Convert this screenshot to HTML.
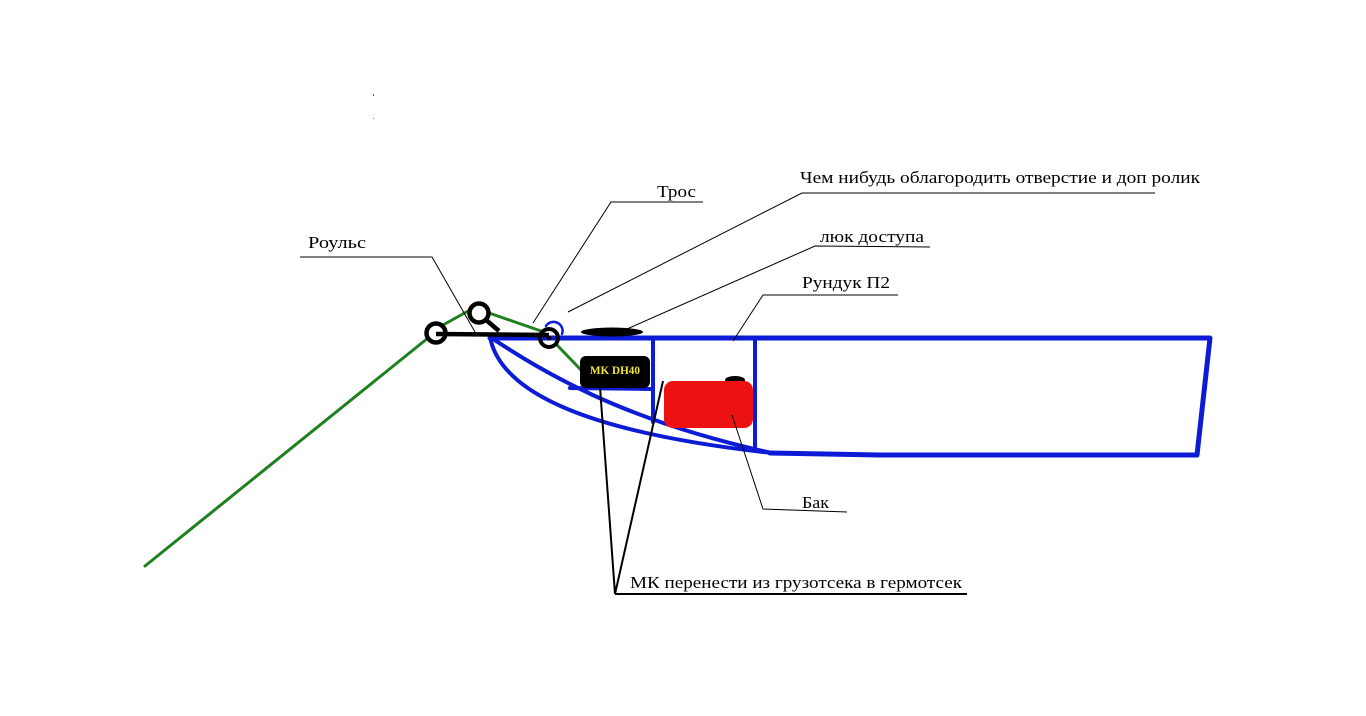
<!DOCTYPE html>
<html><head><meta charset="utf-8"><style>
html,body{margin:0;padding:0;background:#fff;}
svg{display:block;}
text{font-family:"Liberation Serif","Noto Serif CJK SC",serif;font-size:17px;fill:#000;}
</style></head><body>
<svg width="1366" height="716" viewBox="0 0 1366 716" xmlns="http://www.w3.org/2000/svg">
<rect width="1366" height="716" fill="#fff"/>
<!-- faint marks -->
<rect x="373" y="94" width="1" height="2" fill="#555"/>
<rect x="373" y="118" width="1" height="1" fill="#777"/>

<!-- green cable -->
<g stroke="#1e801e" stroke-width="3" fill="none" stroke-linecap="round">
<line x1="145" y1="566" x2="428" y2="338"/>
<line x1="443" y1="325" x2="470" y2="310"/>
<line x1="489" y1="313" x2="541" y2="331"/>
<line x1="556" y1="344" x2="581" y2="370"/>
</g>

<!-- blue hull -->
<g stroke="#0b1bd6" fill="none" stroke-linejoin="round" stroke-linecap="round">
<polyline stroke-width="5" points="490,338 1210,338 1197,455 880,455 770,453"/>
<path stroke-width="4" d="M490 337 C 540 370, 620 420, 772 453"/>
<path stroke-width="4" d="M490 337 C 500 390, 580 432, 772 453"/>
<line stroke-width="4" x1="653" y1="338" x2="653" y2="422"/>
<line stroke-width="4" x1="755" y1="338" x2="755" y2="449"/>
<line stroke-width="4" x1="570" y1="388" x2="653" y2="389"/>
<path stroke-width="2.5" d="M546 326 A 9 9 0 0 1 562 334"/>
</g>

<!-- hatch -->
<ellipse cx="612" cy="332" rx="31" ry="4.5" fill="#000"/>

<!-- MK box -->
<rect x="580" y="356" width="70" height="32" rx="6" fill="#000"/>
<text x="590" y="374" textLength="50" lengthAdjust="spacingAndGlyphs" style="font-size:12px;font-weight:bold;fill:#f0e830">MK DH40</text>

<!-- tank -->
<ellipse cx="735" cy="380" rx="10" ry="4" fill="#000"/>
<rect x="664" y="381" width="89" height="47" rx="9" fill="#ee1111"/>

<!-- black rig -->
<g stroke="#000" fill="none">
<line x1="436" y1="334" x2="549" y2="335" stroke-width="4.5"/>
<circle cx="436" cy="333" r="9.5" stroke-width="4.5"/>
<circle cx="479" cy="313" r="9.5" stroke-width="4.5"/>
<line x1="485" y1="319" x2="499" y2="331" stroke-width="4.5"/>
<circle cx="549" cy="338" r="9" stroke-width="4"/>
</g>
<circle cx="549" cy="338" r="2.5" fill="#000"/>

<!-- leader lines -->
<g stroke="#000" stroke-width="1" fill="none">
<polyline points="300,257 432,257 475,332"/>
<polyline points="703,202 611,202 533,323"/>
<polyline points="1155,193 802,193 568,312"/>
<polyline points="930,247 815,246 627,329"/>
<polyline points="898,295 763,295 733,341"/>
<polyline points="847,512 763,509 732,415"/>
</g>
<g stroke="#000" stroke-width="2" fill="none">
<line x1="615" y1="594" x2="967" y2="594"/>
<line x1="615" y1="594" x2="600" y2="387"/>
<line x1="615" y1="594" x2="663" y2="381"/>
</g>

<!-- labels -->
<text x="308" y="248" textLength="58" lengthAdjust="spacingAndGlyphs">Роульс</text>
<text x="657" y="197" textLength="39" lengthAdjust="spacingAndGlyphs">Трос</text>
<text x="800" y="183" textLength="400" lengthAdjust="spacingAndGlyphs">Чем нибудь облагородить отверстие и доп ролик</text>
<text x="820" y="242" textLength="104" lengthAdjust="spacingAndGlyphs">люк доступа</text>
<text x="802" y="288" textLength="88" lengthAdjust="spacingAndGlyphs">Рундук П2</text>
<text x="802" y="508" textLength="27" lengthAdjust="spacingAndGlyphs">Бак</text>
<text x="630" y="588" textLength="332" lengthAdjust="spacingAndGlyphs">МК перенести из грузотсека в гермотсек</text>
</svg>
</body></html>
